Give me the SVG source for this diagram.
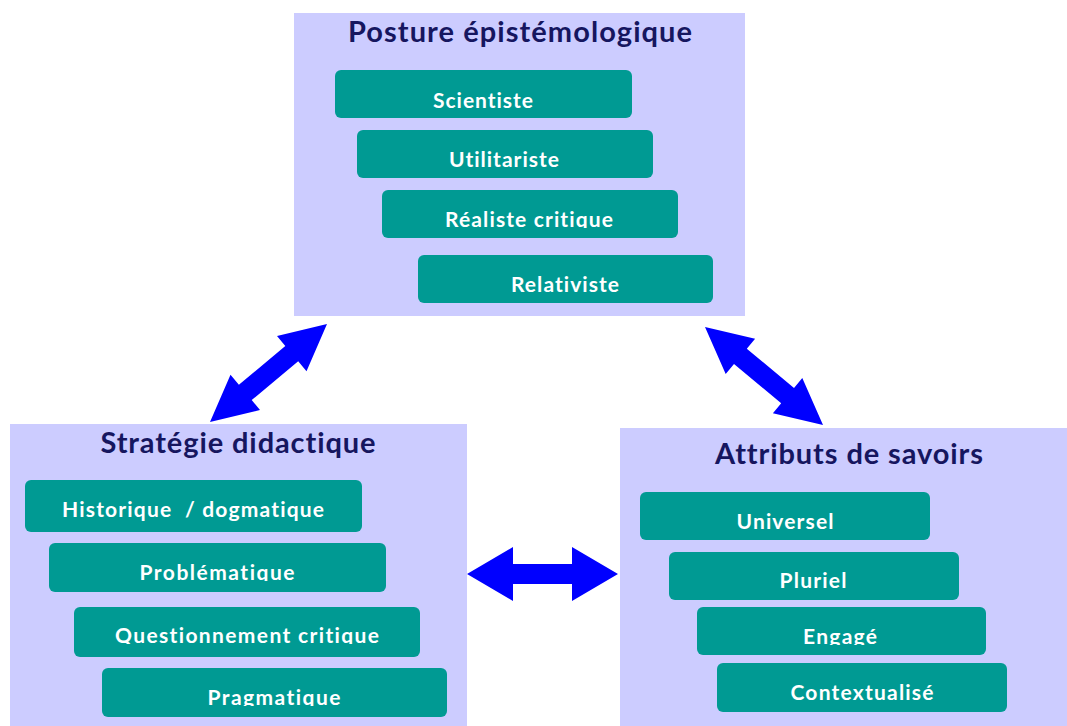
<svg xmlns="http://www.w3.org/2000/svg" width="1067" height="726" viewBox="0 0 1067 726">
<defs>
<style>
.panel{fill:#CCCCFF}
.box{fill:#009A93}
.title{font-family:Lato,"Open Sans","Liberation Sans",sans-serif;font-weight:bold;font-size:29px;fill:#16165F;text-anchor:middle;font-variant-ligatures:none}
.lbl{font-family:Lato,"Open Sans","Liberation Sans",sans-serif;font-weight:bold;font-size:21px;fill:#FFFFFF;text-anchor:middle;font-variant-ligatures:none}
.arrow{fill:#0000FF}
</style>
<clipPath id="c1"><rect x="380" y="180" width="300" height="48"/></clipPath>
<clipPath id="c2"><rect x="45" y="540" width="345" height="41"/></clipPath>
<clipPath id="c3"><rect x="70" y="600" width="355" height="44"/></clipPath>
<clipPath id="c4"><rect x="100" y="660" width="350" height="46"/></clipPath>
<clipPath id="c5"><rect x="695" y="600" width="295" height="45"/></clipPath>
</defs>
<rect width="1067" height="726" fill="#FFFFFF"/>

<g id="posture">
<rect class="panel" x="294" y="13" width="451" height="303"/>
<text class="title" x="520" y="42" textLength="344">Posture épistémologique</text>
<g id="scientiste"><rect class="box" x="335" y="70" width="297" height="48" rx="6"/><text class="lbl" x="483" y="108" textLength="100">Scientiste</text></g>
<g id="utilitariste"><rect class="box" x="357" y="130" width="296" height="48" rx="6"/><text class="lbl" x="504" y="167" textLength="110">Utilitariste</text></g>
<g id="realiste"><rect class="box" x="382" y="190" width="296" height="48" rx="6"/><text class="lbl" x="529" y="227" textLength="168" clip-path="url(#c1)">Réaliste critique</text></g>
<g id="relativiste"><rect class="box" x="418" y="255" width="295" height="48" rx="6"/><text class="lbl" x="565" y="292" textLength="108">Relativiste</text></g>
</g>

<g id="strategie">
<rect class="panel" x="10" y="424" width="457" height="302"/>
<text class="title" x="238" y="453" textLength="275">Stratégie didactique</text>
<g id="historique"><rect class="box" x="25" y="480" width="337" height="52" rx="6"/><text class="lbl" x="193" y="517" textLength="262" xml:space="preserve">Historique  / dogmatique</text></g>
<g id="problematique"><rect class="box" x="49" y="543" width="337" height="49" rx="6"/><text class="lbl" x="217" y="580" textLength="155" clip-path="url(#c2)">Problématique</text></g>
<g id="questionnement"><rect class="box" x="74" y="607" width="346" height="50" rx="6"/><text class="lbl" x="247" y="643" textLength="264" clip-path="url(#c3)">Questionnement critique</text></g>
<g id="pragmatique"><rect class="box" x="102" y="668" width="345" height="49" rx="6"/><text class="lbl" x="274" y="705" textLength="133" clip-path="url(#c4)">Pragmatique</text></g>
</g>

<g id="attributs">
<rect class="panel" x="620" y="428" width="447" height="298"/>
<text class="title" x="849" y="464" textLength="268">Attributs de savoirs</text>
<g id="universel"><rect class="box" x="640" y="492" width="290" height="48" rx="6"/><text class="lbl" x="785" y="529" textLength="97">Universel</text></g>
<g id="pluriel"><rect class="box" x="669" y="552" width="290" height="48" rx="6"/><text class="lbl" x="813" y="588" textLength="67">Pluriel</text></g>
<g id="engage"><rect class="box" x="697" y="607" width="289" height="48" rx="6"/><text class="lbl" x="840" y="644" textLength="74" clip-path="url(#c5)">Engagé</text></g>
<g id="contextualise"><rect class="box" x="717" y="663" width="290" height="49" rx="6"/><text class="lbl" x="862" y="700" textLength="143">Contextualisé</text></g>
</g>

<g id="connectors">
<polygon class="arrow" points="327,324 306.5,371.2 298.2,361.2 251.7,400.1 260,410.1 210,422 230.5,374.8 238.9,384.8 285.3,345.9 277,335.9"/>
<polygon class="arrow" points="705,327 755.1,338.7 746.8,348.7 794,387.9 802.3,377.9 823,425 772.9,413.3 781.2,403.3 734,364.1 725.7,374.1"/>
<polygon class="arrow" points="467,574 513,547 513,564 572,564 572,547 618,574 572,601 572,584 513,584 513,601"/>
</g>
</svg>
